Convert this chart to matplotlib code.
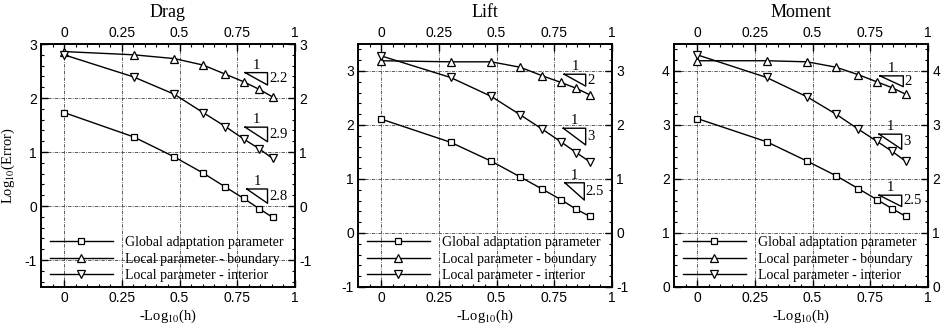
import matplotlib
matplotlib.use("Agg")
import matplotlib.pyplot as plt
from matplotlib.ticker import MultipleLocator, FormatStrFormatter

plt.rcParams['font.family'] = 'Liberation Sans'
plt.rcParams['mathtext.fontset'] = 'stix'
plt.rcParams['axes.unicode_minus'] = False

SERIF = 'Liberation Serif'

# ----- data -----
neg_log_h = [0.0, 0.301, 0.477, 0.602, 0.699, 0.778, 0.845, 0.903]

drag_global = [1.73, 1.28, 0.91, 0.61, 0.35, 0.14, -0.05, -0.21]
drag_boundary = [2.86, 2.80, 2.73, 2.61, 2.44, 2.30, 2.16, 2.02]
drag_interior = [2.80, 2.39, 2.07, 1.73, 1.47, 1.24, 1.06, 0.88]

lift_global = [2.11, 1.68, 1.33, 1.04, 0.81, 0.62, 0.44, 0.31]
lift_boundary = [3.19, 3.17, 3.17, 3.07, 2.91, 2.79, 2.68, 2.56]
lift_interior = [3.28, 2.88, 2.53, 2.19, 1.92, 1.69, 1.49, 1.32]

moment_global = [3.12, 2.69, 2.33, 2.06, 1.82, 1.62, 1.45, 1.31]
moment_boundary = [4.19, 4.19, 4.17, 4.07, 3.93, 3.80, 3.69, 3.57]
moment_interior = [4.30, 3.88, 3.52, 3.20, 2.92, 2.70, 2.51, 2.33]

# slope triangles: (x left, x right, y top, y bottom), slope label
drag_tri = [(0.784, 0.881, 2.47, 2.24), (0.784, 0.881, 1.46, 1.19), (0.791, 0.881, 0.315, 0.05)]
drag_slopes = ['2.2', '2.9', '2.8']
lift_tri = [(0.793, 0.886, 2.94, 2.72), (0.789, 0.886, 1.94, 1.63), (0.796, 0.880, 0.93, 0.61)]
lift_slopes = ['2', '3', '2.5']
moment_tri = [(0.792, 0.893, 3.91, 3.71), (0.788, 0.886, 2.83, 2.55), (0.788, 0.886, 1.70, 1.49)]
moment_slopes = ['2', '3', '2.5']

titles = ['Drag', 'Lift', 'Moment']
ylims = [(-1.5, 3), (-1, 3.5), (0, 4.5)]
labels = ['Global adaptation parameter', 'Local parameter - boundary',
          'Local parameter - interior']

panels = [
    (drag_global, drag_boundary, drag_interior, drag_tri, drag_slopes),
    (lift_global, lift_boundary, lift_interior, lift_tri, lift_slopes),
    (moment_global, moment_boundary, moment_interior, moment_tri, moment_slopes),
]

fig = plt.figure(figsize=(9.46, 3.31), dpi=100)
W, H = 946, 331
lefts = [41, 358, 674]

for i, (g, b, itr, tris, slopes) in enumerate(panels):
    ax = fig.add_axes([lefts[i] / W, (H - 287) / H, 254 / W, 243 / H])
    ax.set_xlim(-0.1, 1)
    ax.set_ylim(*ylims[i])

    mk = dict(color='black', lw=1.0, mfc='white', mec='black', mew=0.9)
    ax.plot(neg_log_h, g, marker='s', ms=5, label=labels[0], **mk)
    ax.plot(neg_log_h, b, marker='^', ms=6, label=labels[1], **mk)
    ax.plot(neg_log_h, itr, marker='v', ms=6, label=labels[2], **mk)

    for (x0, x1, yt, yb), s in zip(tris, slopes):
        ax.plot([x0, x1, x1, x0], [yt, yt, yb, yt], color='black', lw=1.0)
        ax.text((x0 + x1) / 2, yt + 0.02, '1', ha='center', va='bottom',
                family=SERIF, fontsize=10.5)
        ax.text(x1 + 0.006, (yt + yb) / 2, s, ha='left', va='center',
                family=SERIF, fontsize=10.5)

    ax.xaxis.set_minor_locator(MultipleLocator(0.05))
    ax.yaxis.set_minor_locator(MultipleLocator(0.2))
    ax.set_xticks([0, 0.25, 0.5, 0.75, 1])
    ax.set_xticklabels(['0', '0.25', '0.5', '0.75', '1'])
    lo, hi = ylims[i]
    ax.set_yticks([v for v in range(int(lo) - 1, int(hi) + 2) if lo <= v <= hi])
    ax.yaxis.set_major_formatter(FormatStrFormatter('%d'))

    ax.tick_params(which='both', direction='in', top=True, right=True,
                   labeltop=True, labelright=True, labelsize=10, pad=3)
    ax.tick_params(which='major', length=5, width=1.0)
    ax.tick_params(which='minor', length=2.5, width=0.8)
    for sp in ax.spines.values():
        sp.set_linewidth(1.4)

    ax.grid(True, which='major', color='0.25', lw=0.6,
            linestyle=(0, (4, 1.5, 1, 1.5)))

    ax.text(0.5, 1.128, titles[i], transform=ax.transAxes, ha='center',
            va='center', family=SERIF, fontsize=13)
    ax.text(0.5, -0.122, r'-Log$_{10}$(h)', transform=ax.transAxes,
            ha='center', va='center', family=SERIF, fontsize=10.5)
    if i == 0:
        ax.text(-0.13, 0.5, r'Log$_{10}$(Error)', transform=ax.transAxes,
                rotation=90, ha='center', va='center', family=SERIF, fontsize=10.5)

    ax.legend(loc='lower left', bbox_to_anchor=(0.036, 0.02), frameon=False,
              borderpad=0, borderaxespad=0, handlelength=4.5, handletextpad=0.9,
              labelspacing=0.25, prop={'family': SERIF, 'size': 10})

fig.savefig('out.png', dpi=100)
